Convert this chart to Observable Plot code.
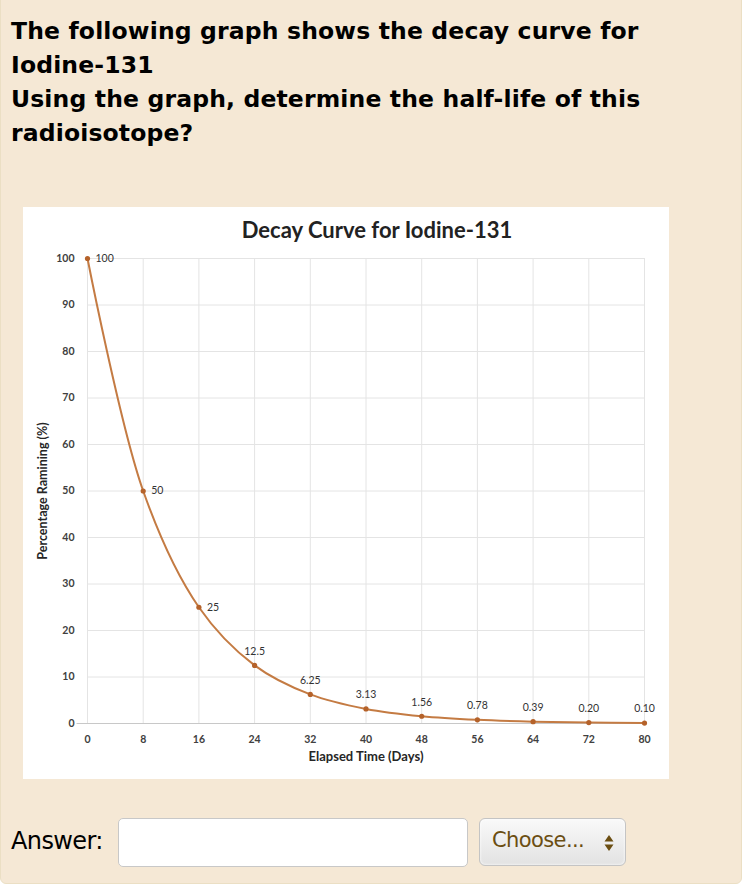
<!DOCTYPE html>
<html>
<head>
<meta charset="utf-8">
<script src="https://cdn.jsdelivr.net/npm/d3@7"></script>
<script src="https://cdn.jsdelivr.net/npm/@observablehq/plot@0.6"></script>
<style>
  html, body { margin: 0; padding: 0; background: #ffffff; }
  #page { position: absolute; left: 0; top: -6px; width: 742px; height: 890px; background: #f5e8d5;
          border: 1px solid #ebdfc4; border-radius: 6px; box-sizing: border-box; overflow: hidden; }
  #question { position: absolute; left: 10px; top: 19px; font-family: "DejaVu Sans", Verdana, sans-serif;
              font-weight: bold; font-size: 23.5px; line-height: 34px; color: #000; letter-spacing: 0.15px; }
  #chartbox { position: absolute; left: 22px; top: 212px; width: 646px; height: 572px; background: #fff; }
  #charttitle { position: absolute; left: 0; width: 708px; top: 9px; text-align: center;
                font-family: Lato, "Open Sans", sans-serif; font-weight: bold; font-size: 22px; color: #222; }
  #chart { position: absolute; left: 0; top: 0; }
  #answer { position: absolute; left: 10px; top: 832px; font-family: "DejaVu Sans", Verdana, sans-serif;
            font-size: 24px; color: #000; letter-spacing: -0.6px; }
  #input { position: absolute; left: 117px; top: 823px; width: 350px; height: 49px; background: #fff;
           border: 1px solid #c8c8c8; border-radius: 5px; box-sizing: border-box; }
  #select { position: absolute; left: 478px; top: 823px; width: 147px; height: 48px; box-sizing: border-box;
            border: 1px solid #c4c4c4; border-radius: 6px; background: linear-gradient(#f9f9f9, #e2e2e2);
            box-shadow: inset 0 0 3px #fff; font-family: "DejaVu Sans", Verdana, sans-serif; font-size: 21px;
            color: #6b4e12; letter-spacing: -0.6px; }
  #select span { position: absolute; left: 12px; top: 9px; }
  #select svg { position: absolute; right: 11px; top: 14px; }
</style>
</head>
<body>
<div id="page">
  <div id="question">The following graph shows the decay curve for<br>Iodine-131<br>Using the graph, determine the half-life of this<br>radioisotope?</div>
  <div id="chartbox">
    <div id="chart"></div>
    <div id="charttitle">Decay Curve for Iodine-131</div>
  </div>
  <div id="answer">Answer:</div>
  <div id="input"></div>
  <div id="select"><span>Choose...</span>
    <svg width="10" height="20" viewBox="0 0 10 20"><path d="M5 2 L9.5 8.5 L0.5 8.5 Z M5 18 L9.5 11.5 L0.5 11.5 Z" fill="#6b4e12"/></svg>
  </div>
</div>
<script>
const days = [0, 8, 16, 24, 32, 40, 48, 56, 64, 72, 80];
const percent = [100, 50, 25, 12.5, 6.25, 3.13, 1.56, 0.78, 0.39, 0.20, 0.10];
const valueLabels = ["100", "50", "25", "12.5", "6.25", "3.13", "1.56", "0.78", "0.39", "0.20", "0.10"];
const xTicks = [0, 8, 16, 24, 32, 40, 48, 56, 64, 72, 80];
const yTicks = [0, 10, 20, 30, 40, 50, 60, 70, 80, 90, 100];

const data = days.map((d, i) => ({day: d, pct: percent[i], label: valueLabels[i]}));
const rightLabels = data.filter(d => d.pct >= 25);
const topLabels = data.filter(d => d.pct < 25);

const lineColor = "#c47b43";
const dotColor = "#b5622a";
const font = "Lato, 'Open Sans', sans-serif";

const chart = Plot.plot({
  width: 646,
  height: 572,
  marginLeft: 64,
  marginRight: 25,
  marginTop: 51,
  marginBottom: 56,
  style: {background: "transparent", fontFamily: font, fontSize: "10px", color: "#404040"},
  x: {domain: [0, 80]},
  y: {domain: [0, 100]},
  marks: [
    Plot.gridX(xTicks, {stroke: "#e4e4e4", strokeOpacity: 1, strokeWidth: 1}),
    Plot.gridY(yTicks.filter(t => t > 0), {stroke: "#e4e4e4", strokeOpacity: 1, strokeWidth: 1}),
    Plot.ruleY([0], {stroke: "#c8c8c8", strokeWidth: 1, x1: -1.5, x2: 80}),
    Plot.axisX(xTicks, {tickSize: 0, tickPadding: 12, fontSize: 10.5, fill: "#404040", fontWeight: "bold",
      label: "Elapsed Time (Days)", labelAnchor: "center", labelArrow: "none", labelOffset: 37}),
    Plot.axisY(yTicks, {tickSize: 0, tickPadding: 13, fontSize: 10.5, fill: "#404040", fontWeight: "bold",
      label: "Percentage Ramining (%)", labelAnchor: "center", labelArrow: "none", labelOffset: 49}),
    Plot.line(data, {x: "day", y: "pct", stroke: lineColor, strokeWidth: 2, curve: "catmull-rom"}),
    Plot.dot(data, {x: "day", y: "pct", r: 2.6, fill: dotColor, stroke: null}),
    Plot.text(rightLabels, {x: "day", y: "pct", text: "label", dx: 8, textAnchor: "start", fontSize: 10.5, fill: "#333"}),
    Plot.text(topLabels, {x: "day", y: "pct", text: "label", dy: -14, dx: 0, fontSize: 10.5, fill: "#333"})
  ]
});
document.getElementById("chart").appendChild(chart);

// style axis labels bold
chart.querySelectorAll("g[aria-label='x-axis label'] text").forEach(t => {
  t.setAttribute("font-weight", "bold");
  t.setAttribute("font-size", "13");
  t.setAttribute("fill", "#262626");
});
chart.querySelectorAll("g[aria-label='y-axis label'] text").forEach(t => {
  t.setAttribute("font-weight", "bold");
  t.setAttribute("font-size", "12.5");
  t.setAttribute("fill", "#262626");
});
</script>
</body>
</html>
